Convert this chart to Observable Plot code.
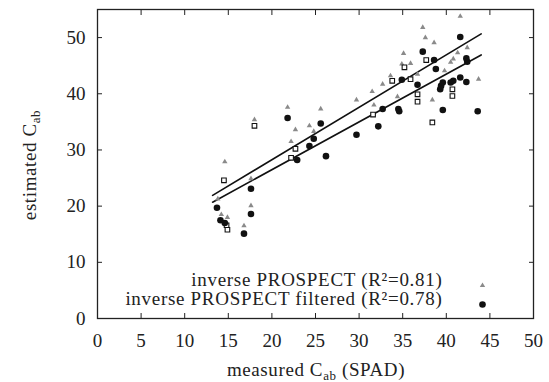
<!DOCTYPE html>
<html>
<head>
<meta charset="utf-8">
<script src="https://cdn.jsdelivr.net/npm/d3@7"></script>
<script src="https://cdn.jsdelivr.net/npm/@observablehq/plot@0.6"></script>
<style>
  body { margin: 0; background: #fff; }
  #chart svg { display: block; }
</style>
</head>
<body>
<div id="chart"></div>
<script>
// inverse PROSPECT (small grey triangles)
const ipX = [14.6, 13.8, 14.2, 14.9, 17.6, 17.6, 16.8, 18.0, 21.8, 22.7, 22.2, 24.3, 24.8, 25.6, 29.7, 31.5, 31.7, 32.7, 33.6, 35.1, 34.9, 35.9, 34.4, 37.3, 37.6, 38.6, 38.4, 39.8, 40.5, 40.8, 41.6, 42.4, 41.3, 43.7, 36.7];
const ipY = [27.9, 21.3, 18.5, 18.0, 24.9, 20.1, 16.5, 35.4, 37.6, 33.6, 31.5, 34.3, 33.3, 37.3, 38.9, 40.4, 38.0, 41.7, 43.2, 47.2, 45.3, 45.4, 39.5, 51.8, 50.0, 49.1, 38.9, 44.1, 45.6, 46.2, 53.8, 48.2, 47.3, 42.6, 43.5];
// inverse PROSPECT filtered (filled black)
const fX = [13.7, 14.1, 14.6, 16.8, 17.6, 17.6, 21.8, 22.9, 24.3, 24.8, 25.6, 26.2, 29.7, 32.2, 32.7, 34.5, 34.6, 34.9, 36.7, 37.3, 38.6, 38.8, 39.6, 39.3, 39.4, 39.6, 40.5, 40.8, 41.6, 41.6, 42.3, 42.4, 42.3, 43.6];
const fY = [19.7, 17.5, 17.0, 15.1, 18.6, 23.1, 35.7, 28.2, 30.7, 32.0, 34.7, 28.9, 32.7, 34.2, 37.3, 37.3, 36.9, 42.5, 41.6, 47.5, 46.0, 44.4, 37.1, 40.8, 41.4, 42.0, 42.0, 42.3, 42.9, 50.1, 46.3, 45.7, 42.1, 36.9];
// additional open markers
const oX = [14.5, 14.8, 14.9, 18.0, 22.2, 22.7, 31.6, 33.8, 35.2, 35.9, 36.7, 36.7, 37.7, 38.4, 40.7, 40.7];
const oY = [24.6, 16.6, 15.8, 34.3, 28.6, 30.2, 36.3, 42.3, 44.7, 42.6, 39.9, 38.6, 46.0, 34.9, 40.8, 39.6];
// fitted regression lines: [intercept, slope], drawn over the measured range
const fitAll = [9.6, 0.933];
const fitFiltered = [9.47, 0.851];
const fitRange = [13.2, 44.0];
// ticks
const xTicks = [0, 5, 10, 15, 20, 25, 30, 35, 40, 45, 50];
const yTicks = [0, 10, 20, 30, 40, 50];
const legendLabels = ["inverse PROSPECT (R\u00B2=0.81)", "inverse PROSPECT filtered (R\u00B2=0.78)"];

const ip = ipX.map((x, i) => ({x, y: ipY[i]}));
const filt = fX.map((x, i) => ({x, y: fY[i]}));
const open = oX.map((x, i) => ({x, y: oY[i]}));
const lineOf = (fit) => fitRange.map(x => ({x, y: fit[0] + fit[1] * x}));

const font = "Liberation Serif, Times New Roman, serif";

const plot = Plot.plot({
  width: 549,
  height: 382,
  marginLeft: 97,
  marginRight: 16,
  marginTop: 9,
  marginBottom: 64,
  style: {fontFamily: font, fontSize: "18px", color: "#222", background: "#fff"},
  x: {domain: [0, 50]},
  y: {domain: [0, 55]},
  marks: [
    Plot.frame({stroke: "#222", strokeWidth: 1.3}),
    // inward ticks on all four sides
    Plot.axisX({anchor: "bottom", ticks: xTicks, tickSize: -5, tickFormat: () => "", label: null, stroke: "#222"}),
    Plot.axisX({anchor: "top", ticks: xTicks, tickSize: -5, tickFormat: () => "", label: null, stroke: "#222"}),
    Plot.axisY({anchor: "left", ticks: yTicks, tickSize: -5, tickFormat: () => "", label: null, stroke: "#222"}),
    Plot.axisY({anchor: "right", ticks: yTicks, tickSize: -5, tickFormat: () => "", label: null, stroke: "#222"}),
    // tick labels
    Plot.axisX({anchor: "bottom", ticks: xTicks, tickSize: 0, tickPadding: 15, label: null, fontSize: 19, fill: "#222"}),
    Plot.axisY({anchor: "left", ticks: yTicks, tickSize: 0, tickPadding: 12, label: null, fontSize: 19, fill: "#222"}),
    // regression lines
    Plot.line(lineOf(fitAll), {x: "x", y: "y", stroke: "#111", strokeWidth: 1.6}),
    Plot.line(lineOf(fitFiltered), {x: "x", y: "y", stroke: "#111", strokeWidth: 1.6}),
    // points
    Plot.dot(ip, {x: "x", y: "y", symbol: "triangle", r: 2.0, fill: "#8a8a8a", stroke: "none"}),
    Plot.dot(open, {x: "x", y: "y", symbol: "square", r: 2.6, fill: "#fff", stroke: "#111", strokeWidth: 1.1}),
    Plot.dot(filt, {x: "x", y: "y", symbol: "circle", r: 3.3, fill: "#111", stroke: "none"}),
    // legend
    Plot.text([legendLabels[0]], {frameAnchor: "bottom-right", dx: -91, dy: -33, textAnchor: "end", fontSize: 19, fill: "#222"}),
    Plot.text([legendLabels[1]], {frameAnchor: "bottom-right", dx: -91, dy: -14, textAnchor: "end", fontSize: 19, fill: "#222"}),
    Plot.dot([0], {frameAnchor: "bottom-right", dx: -51, dy: -33, symbol: "triangle", r: 2.0, fill: "#8a8a8a"}),
    Plot.dot([0], {frameAnchor: "bottom-right", dx: -51, dy: -14, symbol: "circle", r: 3.3, fill: "#111"})
  ]
});

// slightly wider text like the reference rendering
d3.select(plot).selectAll("g[aria-label='text'] text").attr("letter-spacing", 0.7);

// axis titles with subscripts
const svg = d3.select(plot);
const xt = svg.append("text")
  .attr("x", 316).attr("y", 372).attr("text-anchor", "middle").attr("dominant-baseline", "middle")
  .attr("font-family", font).attr("font-size", 19).attr("letter-spacing", 0.6).attr("fill", "#222");
xt.append("tspan").text("measured C");
xt.append("tspan").attr("font-size", 13).attr("dy", 5).text("ab");
xt.append("tspan").attr("dy", -5).text(" (SPAD)");

const yt = svg.append("text")
  .attr("transform", "translate(32,165) rotate(-90)").attr("text-anchor", "middle").attr("dominant-baseline", "middle")
  .attr("font-family", font).attr("font-size", 19).attr("letter-spacing", 0.6).attr("fill", "#222");
yt.append("tspan").text("estimated C");
yt.append("tspan").attr("font-size", 13).attr("dy", 5).text("ab");

document.getElementById("chart").appendChild(plot);
</script>
</body>
</html>
